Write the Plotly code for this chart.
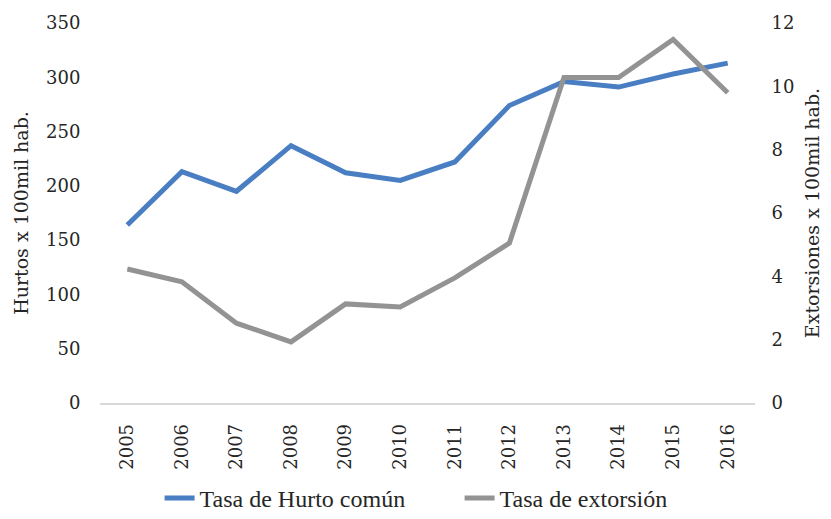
import plotly.graph_objects as go

years = ["2005", "2006", "2007", "2008", "2009", "2010", "2011", "2012", "2013", "2014", "2015", "2016"]
hurto = [164, 213, 195, 237, 212, 205, 222, 274, 296, 291, 303, 313]
extorsion = [4.23, 3.83, 2.52, 1.93, 3.13, 3.03, 3.95, 5.05, 10.28, 10.28, 11.48, 9.80]

left_ticks = [0, 50, 100, 150, 200, 250, 300, 350]
right_ticks = [0, 2, 4, 6, 8, 10, 12]

tick_font = dict(family="DejaVu Serif", size=18, color="#262626")
title_font = dict(family="DejaVu Serif", size=19, color="#262626")

fig = go.Figure()
fig.add_trace(go.Scatter(x=years, y=hurto, name="Tasa de Hurto común", mode="lines",
                         line=dict(color="#4A7EC3", width=5), yaxis="y"))
fig.add_trace(go.Scatter(x=years, y=extorsion, name="Tasa de extorsión", mode="lines",
                         line=dict(color="#939393", width=5), yaxis="y2"))

# page body has an 8px default margin; figure is sized to fill the 831x519 window
fig.update_layout(
    width=815, height=503,
    margin=dict(l=92, r=68, t=15, b=108),
    paper_bgcolor="white", plot_bgcolor="white",
    showlegend=True,
    legend=dict(orientation="h", xref="container", yref="container",
                x=0.186, xanchor="left", y=0.025, yanchor="middle",
                entrywidth=255, entrywidthmode="pixels",
                font=dict(family="Liberation Serif", size=24, color="#262626"),
                tracegroupgap=0),
    xaxis=dict(type="category", range=[-0.5, 11.5], tickangle=-90, tickfont=tick_font,
               showgrid=False, automargin=False,
               showline=True, linecolor="#d9d9d9", linewidth=1.5,
               ticks="outside", ticklen=12, tickcolor="rgba(0,0,0,0)"),
    yaxis=dict(range=[0, 350], tickvals=left_ticks, tickfont=tick_font, showgrid=False,
               zeroline=False, showline=False, automargin=False,
               ticks="outside", ticklen=15, tickcolor="rgba(0,0,0,0)",
               title=dict(text="Hurtos x 100mil hab.", font=title_font, standoff=12)),
    yaxis2=dict(range=[0, 12], tickvals=right_ticks, tickfont=tick_font, showgrid=False,
                zeroline=False, showline=False, overlaying="y", side="right", automargin=False,
                ticks="outside", ticklen=12, tickcolor="rgba(0,0,0,0)",
                title=dict(text="Extorsiones x 100mil hab.", font=title_font, standoff=12)),
)

fig.write_html("out.html")
